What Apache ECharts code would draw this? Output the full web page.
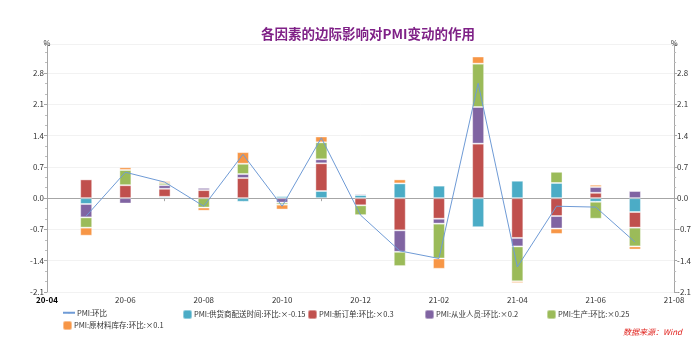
<!DOCTYPE html>
<html>
<head>
<meta charset="utf-8">
<script src="https://cdn.jsdelivr.net/npm/echarts@6/dist/echarts.min.js"></script>
<style>
  html, body { margin: 0; padding: 0; background: #fff; }
  #chart { width: 694px; height: 341px; }
</style>
</head>
<body>
<div id="chart"></div>
<script>
// Months on the x axis (first and last are empty edge slots)
const months = ['20-04','20-05','20-06','20-07','20-08','20-09','20-10','20-11','20-12',
                '21-01','21-02','21-03','21-04','21-05','21-06','21-07','21-08'];

// Weighted month-on-month contributions of each PMI sub-index (%)
const supplierDelivery = [null, -0.13, null, 0.03, null, -0.08, 0.045, 0.16, 0.07, 0.33, 0.28, -0.65, 0.39, 0.34, -0.08, -0.31, null];
const newOrders        = [null, 0.42, 0.29, 0.18, 0.18, 0.45, null, 0.62, -0.16, -0.72, -0.46, 1.22, -0.89, -0.40, 0.12, -0.35, null];
const employment       = [null, -0.30, -0.12, 0.08, 0.05, 0.09, -0.10, 0.09, 0.03, -0.48, -0.11, 0.82, -0.19, -0.28, 0.13, 0.16, null];
const production       = [null, -0.23, 0.34, 0.05, -0.21, 0.23, -0.045, 0.38, -0.22, -0.32, -0.78, 0.97, -0.78, 0.25, -0.38, -0.42, null];
const rawInventory     = [null, -0.18, 0.06, 0.04, -0.07, 0.26, -0.11, 0.13, null, 0.09, -0.23, 0.16, -0.04, -0.12, 0.05, -0.07, null];

// PMI month-on-month change (%)
const pmiChange = [null, -0.40, 0.58, 0.36, -0.18, 0.98, -0.18, 1.35, -0.38, -1.18, -1.35, 2.57, -1.54, -0.18, -0.20, -0.98, null];

const names = {
  pmi: 'PMI:环比',
  supplier: 'PMI:供货商配送时间:环比:×-0.15',
  orders: 'PMI:新订单:环比:×0.3',
  employ: 'PMI:从业人员:环比:×0.2',
  prod: 'PMI:生产:环比:×0.25',
  inv: 'PMI:原材料库存:环比:×0.1'
};

const colors = {
  supplier: '#4bacc6',
  orders: '#c0504d',
  employ: '#8064a2',
  prod: '#9bbb59',
  inv: '#f79646',
  line: '#6f9bd6'
};

const FONT = '"Noto Sans CJK SC", "Noto Sans", sans-serif';

function barSeries(name, data, color) {
  return {
    name: name,
    type: 'bar',
    stack: 'factors',
    barWidth: 12,
    data: data,
    itemStyle: { color: color, borderColor: 'rgba(255,255,255,0.4)', borderWidth: 1 },
    emphasis: { disabled: true }
  };
}

function legendItem(name, left, top, isLine) {
  return {
    data: [name],
    left: left,
    top: top,
    itemWidth: isLine ? 12 : 9,
    itemHeight: isLine ? 2 : 9,
    itemGap: 0,
    padding: 0,
    selectedMode: false,
    textStyle: { fontSize: 7.5, color: '#333', fontFamily: FONT, padding: [0, 0, 0, -3] }
  };
}

const yAxisCommon = {
  type: 'value',
  min: -2.1,
  max: 3.45,
  interval: 0.7,
  name: '%',
  nameGap: -3,
  nameTextStyle: { fontSize: 7.5, color: '#333', fontFamily: FONT },
  axisLine: { show: true, lineStyle: { color: '#a6a6a6' } },
  axisTick: { show: true, length: 3, lineStyle: { color: '#a6a6a6' } },
  minorTick: { show: true, splitNumber: 3, length: 2, lineStyle: { color: '#bdbdbd' } },
  axisLabel: {
    fontSize: 8, color: '#333', fontFamily: FONT, margin: 3,
    showMaxLabel: false,
    formatter: v => v.toFixed(1)
  }
};

const chart = echarts.init(document.getElementById('chart'));
chart.setOption({
  animation: false,
  backgroundColor: '#fff',
  title: {
    text: '各因素的边际影响对PMI变动的作用',
    left: 256,
    top: 22,
    textStyle: { fontSize: 13.5, fontWeight: 'bold', color: '#7f2187', fontFamily: FONT }
  },
  grid: { left: 47, right: 19, top: 44, bottom: 49 },
  legend: [
    legendItem(names.pmi, 62, 309, true),
    legendItem(names.supplier, 182, 309),
    legendItem(names.orders, 307, 309),
    legendItem(names.employ, 424, 309),
    legendItem(names.prod, 546, 309),
    legendItem(names.inv, 62, 320)
  ],
  xAxis: {
    type: 'category',
    data: months,
    boundaryGap: false,
    axisLine: { lineStyle: { color: '#a6a6a6' } },
    axisTick: { show: true, interval: 0, length: 3, lineStyle: { color: '#a6a6a6' } },
    splitLine: { show: false },
    axisLabel: {
      interval: 1,
      fontSize: 8,
      color: '#333',
      fontFamily: FONT,
      margin: 4,
      formatter: (v, i) => i === 0 ? '{b|' + v + '}' : v,
      rich: { b: { fontSize: 8, fontWeight: 'bold', color: '#000', fontFamily: FONT } }
    }
  },
  yAxis: [
    Object.assign({}, yAxisCommon, {
      position: 'left',
      splitLine: { show: true, lineStyle: { color: '#f2f2f2' } }
    }),
    Object.assign({}, yAxisCommon, {
      position: 'right',
      splitLine: { show: false }
    })
  ],
  series: [
    {
      name: names.pmi,
      type: 'line',
      data: pmiChange,
      symbol: 'none',
      z: 5,
      lineStyle: { color: colors.line, width: 1 },
      itemStyle: { color: colors.line },
      emphasis: { disabled: true }
    },
    barSeries(names.supplier, supplierDelivery, colors.supplier),
    barSeries(names.orders, newOrders, colors.orders),
    barSeries(names.employ, employment, colors.employ),
    barSeries(names.prod, production, colors.prod),
    barSeries(names.inv, rawInventory, colors.inv)
  ],
  graphic: [{
    type: 'text',
    right: 12,
    top: 328,
    style: {
      text: '数据来源：Wind',
      fontSize: 8,
      fontStyle: 'italic',
      fill: '#e0201b',
      fontFamily: FONT
    }
  }]
});
</script>
</body>
</html>
